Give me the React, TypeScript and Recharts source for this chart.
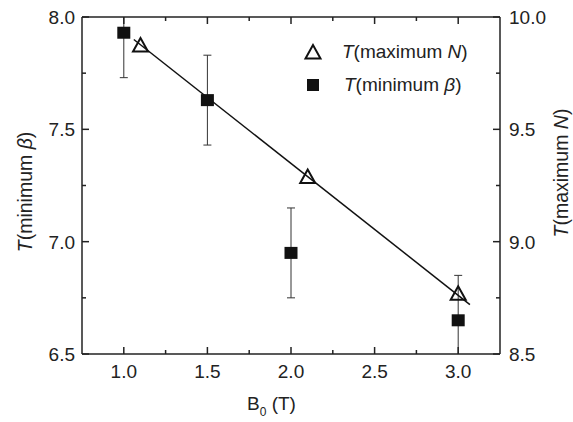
import React from 'react';
import { ComposedChart, XAxis, YAxis, Scatter, Line, Legend, Label } from 'recharts';

// B0 values for each series
const bMinBeta = [1.0, 1.5, 2.0, 3.0];
const tMinBeta = [7.93, 7.63, 6.95, 6.65];
const tMinBetaErr = [0.2, 0.2, 0.2, 0.2];

const bMaxN = [1.1, 2.1, 3.0];
const tMaxN = [9.875, 9.29, 8.77];

// straight line through the maximum-N points
const fitB = [1.06, 3.07];
const fitT = [9.9, 8.72];

const xMajor = [1.0, 1.5, 2.0, 2.5, 3.0];
const xMinor = [1.25, 1.75, 2.25, 2.75];
const leftMajor = [6.5, 7.0, 7.5, 8.0];
const leftMinor = [6.75, 7.25, 7.75];
const rightMajor = [8.5, 9.0, 9.5, 10.0];
const rightMinor = [8.75, 9.25, 9.75];

const squares = bMinBeta.map((x, i) => ({ x, y: tMinBeta[i] }));
// each error bar is a two-point vertical segment, clipped to the plot like the original
const errorSegments = bMinBeta.map((x, i) => [
  { x, y: tMinBeta[i] - tMinBetaErr[i] },
  { x, y: tMinBeta[i] + tMinBetaErr[i] },
]);
const triangles = bMaxN.map((x, i) => ({ x, y: tMaxN[i] }));
const fitLine = fitB.map((x, i) => ({ x, y: fitT[i] }));

const FONT = '"Liberation Sans", Arial, sans-serif';
const INK = '#222';
const MAJOR = 7;
const MINOR = 4;

const allTicks = (major: number[], minor: number[]) => [...major, ...minor].sort((a, b) => a - b);
const isMajor = (major: number[], v: number) => major.some((m) => Math.abs(m - v) < 1e-9);

const BottomTick = (props: any) => {
  const { x, y, payload } = props;
  const major = isMajor(xMajor, payload.value);
  return (
    <g>
      <line x1={x} y1={y} x2={x} y2={y - (major ? MAJOR : MINOR)} stroke={INK} strokeWidth={1.5} />
      {major && (
        <text x={x} y={y + 24} textAnchor="middle" fontSize={19} fill={INK} fontFamily={FONT}>
          {payload.value.toFixed(1)}
        </text>
      )}
    </g>
  );
};

const TopTick = (props: any) => {
  const { x, y, payload } = props;
  const major = isMajor(xMajor, payload.value);
  return <line x1={x} y1={y} x2={x} y2={y + (major ? MAJOR : MINOR)} stroke={INK} strokeWidth={1.5} />;
};

const LeftTick = (props: any) => {
  const { x, y, payload } = props;
  const major = isMajor(leftMajor, payload.value);
  return (
    <g>
      <line x1={x} y1={y} x2={x + (major ? MAJOR : MINOR)} y2={y} stroke={INK} strokeWidth={1.5} />
      {major && (
        <text x={x - 7} y={y + 7} textAnchor="end" fontSize={19} fill={INK} fontFamily={FONT}>
          {payload.value.toFixed(1)}
        </text>
      )}
    </g>
  );
};

const RightTick = (props: any) => {
  const { x, y, payload } = props;
  const major = isMajor(rightMajor, payload.value);
  return (
    <g>
      <line x1={x} y1={y} x2={x - (major ? MAJOR : MINOR)} y2={y} stroke={INK} strokeWidth={1.5} />
      {major && (
        <text x={x + 9} y={y + 7} textAnchor="start" fontSize={19} fill={INK} fontFamily={FONT}>
          {payload.value.toFixed(1)}
        </text>
      )}
    </g>
  );
};

const Square = (props: any) => {
  const { cx, cy } = props;
  return <rect x={cx - 6.5} y={cy - 6} width={13} height={12} fill="#111" />;
};

const Triangle = (props: any) => {
  const { cx, cy } = props;
  return (
    <polygon
      points={`${cx},${cy - 7} ${cx - 7.5},${cy + 6.5} ${cx + 7.5},${cy + 6.5}`}
      fill="none"
      stroke="#111"
      strokeWidth={2}
    />
  );
};

const Cap = (props: any) => {
  const { cx, cy } = props;
  if (cx == null || cy == null) return null;
  return <line x1={cx - 4} y1={cy} x2={cx + 4} y2={cy} stroke="#333" strokeWidth={1} />;
};

const LeftLabel = () => {
  const cx = 25;
  const cy = 192;
  return (
    <text x={cx} y={cy} transform={`rotate(-90 ${cx} ${cy})`} textAnchor="middle" dominantBaseline="central" fontSize={19.5} fill={INK} fontFamily={FONT}>
      <tspan fontStyle="italic">T</tspan>
      <tspan>(minimum </tspan>
      <tspan fontStyle="italic">β</tspan>
      <tspan>)</tspan>
    </text>
  );
};

const RightLabel = () => {
  const cx = 561;
  const cy = 173;
  return (
    <text x={cx} y={cy} transform={`rotate(-90 ${cx} ${cy})`} textAnchor="middle" dominantBaseline="central" fontSize={19.5} fill={INK} fontFamily={FONT}>
      <tspan fontStyle="italic">T</tspan>
      <tspan>(maximum </tspan>
      <tspan fontStyle="italic">N</tspan>
      <tspan>)</tspan>
    </text>
  );
};

const BottomLabel = () => (
  <text x={247} y={410} textAnchor="start" fontSize={19} fill={INK} fontFamily={FONT}>
    <tspan>B</tspan>
    <tspan fontSize={12} dy={6}>0</tspan>
    <tspan dy={-6}> (T)</tspan>
  </text>
);

const LegendBox = () => (
  <div style={{ fontFamily: FONT, fontSize: 19, color: INK, lineHeight: '33px' }}>
    <div style={{ display: 'flex', alignItems: 'center' }}>
      <svg width={42} height={20}>
        <polygon points="13,3 5.5,16.5 20.5,16.5" fill="none" stroke="#111" strokeWidth={2} />
      </svg>
      <span>
        <i>T</i>(maximum <i>N</i>)
      </span>
    </div>
    <div style={{ display: 'flex', alignItems: 'center' }}>
      <svg width={44} height={20}>
        <rect x={7} y={4} width={12} height={12} fill="#111" />
      </svg>
      <span>
        <i>T</i>(minimum <i>β</i>)
      </span>
    </div>
  </div>
);

export default function App() {
  return (
    <div style={{ position: 'absolute', left: 0, top: 0, width: 573, height: 422, background: '#fff' }}>
      <ComposedChart width={573} height={422} margin={{ top: 0, right: 0, bottom: 0, left: 0 }}>
        <XAxis
          xAxisId="b"
          dataKey="x"
          type="number"
          domain={[0.75, 3.25]}
          ticks={allTicks(xMajor, xMinor)}
          interval={0}
          allowDataOverflow
          height={68}
          tickSize={0}
          tickMargin={0}
          tickLine={false}
          tick={<BottomTick />}
          axisLine={{ stroke: INK, strokeWidth: 1.5 }}
        >
          <Label content={<BottomLabel />} />
        </XAxis>
        <XAxis
          xAxisId="top"
          orientation="top"
          dataKey="x"
          type="number"
          domain={[0.75, 3.25]}
          ticks={allTicks(xMajor, xMinor)}
          interval={0}
          allowDataOverflow
          height={17}
          tickSize={0}
          tickMargin={0}
          tickLine={false}
          tick={<TopTick />}
          axisLine={{ stroke: INK, strokeWidth: 1.5 }}
        />
        <YAxis
          yAxisId="left"
          dataKey="y"
          type="number"
          domain={[6.5, 8.0]}
          ticks={allTicks(leftMajor, leftMinor)}
          interval={0}
          allowDataOverflow
          width={82}
          tickSize={0}
          tickMargin={0}
          tickLine={false}
          tick={<LeftTick />}
          axisLine={{ stroke: INK, strokeWidth: 1.5 }}
        >
          <Label content={<LeftLabel />} />
        </YAxis>
        <YAxis
          yAxisId="right"
          orientation="right"
          dataKey="y"
          type="number"
          domain={[8.5, 10.0]}
          ticks={allTicks(rightMajor, rightMinor)}
          interval={0}
          allowDataOverflow
          width={73}
          tickSize={0}
          tickMargin={0}
          tickLine={false}
          tick={<RightTick />}
          axisLine={{ stroke: INK, strokeWidth: 1.5 }}
        >
          <Label content={<RightLabel />} />
        </YAxis>
        {errorSegments.map((seg, i) => (
          <Line
            key={`err-${i}`}
            xAxisId="b"
            yAxisId="left"
            data={seg}
            dataKey="y"
            type="linear"
            stroke="#333"
            strokeWidth={1}
            dot={<Cap />}
            activeDot={false}
            isAnimationActive={false}
            legendType="none"
          />
        ))}
        <Line
          xAxisId="b"
          yAxisId="right"
          data={fitLine}
          dataKey="y"
          type="linear"
          stroke="#111"
          strokeWidth={1.5}
          dot={false}
          activeDot={false}
          isAnimationActive={false}
          legendType="none"
        />
        <Scatter
          name="T(minimum β)"
          xAxisId="b"
          yAxisId="left"
          data={squares}
          shape={<Square />}
          isAnimationActive={false}
        />
        <Scatter
          name="T(maximum N)"
          xAxisId="b"
          yAxisId="right"
          data={triangles}
          shape={<Triangle />}
          isAnimationActive={false}
        />
        <Legend
          layout="horizontal"
          verticalAlign="middle"
          align="center"
          content={<LegendBox />}
          wrapperStyle={{ left: 300, top: 35, width: 220 }}
        />
      </ComposedChart>
    </div>
  );
}
